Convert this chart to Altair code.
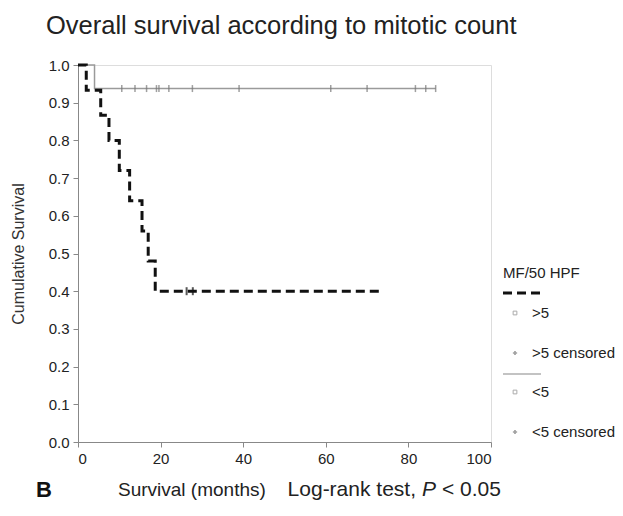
import altair as alt
import pandas as pd

# >5 MF/50 HPF group (dashed black)
gt5_time = [0, 2, 5.5, 7.5, 10, 12.5, 15.5, 17, 18.7, 73.5]
gt5_surv = [1.0, 0.933, 0.867, 0.8, 0.72, 0.64, 0.56, 0.48, 0.40, 0.40]
gt5_cens_time = [26.3, 27.8]
# <5 MF/50 HPF group (solid gray)
lt5_time = [0, 4, 86.6]
lt5_surv = [1.0, 0.9375, 0.9375]
lt5_cens_time = [10.6, 13.8, 16.6, 19.0, 19.6, 22.0, 27.7, 39.0, 61.2, 70.0, 81.7, 84.2, 86.6]

x_ticks = [0, 20, 40, 60, 80, 100]
y_ticks = [0.0, 0.1, 0.2, 0.3, 0.4, 0.5, 0.6, 0.7, 0.8, 0.9, 1.0]

FONT = "Liberation Sans"
W, H = 413, 377

gt5 = pd.DataFrame({"t": gt5_time, "s": gt5_surv})
lt5 = pd.DataFrame({"t": lt5_time, "s": lt5_surv})
gt5c = pd.DataFrame({"t": gt5_cens_time, "s": [gt5_surv[-1]] * len(gt5_cens_time)})
lt5c = pd.DataFrame({"t": lt5_cens_time, "s": [lt5_surv[-1]] * len(lt5_cens_time)})

xs = alt.Scale(domain=[0, 100], nice=False)
ys = alt.Scale(domain=[0, 1], nice=False)

xaxis = alt.Axis(values=x_ticks, title=None, grid=False,
                 labelFont=FONT, labelFontSize=15, labelColor="#222", tickSize=5,
                 labelPadding=4, domainColor="#888", tickColor="#888", labelOverlap=False)
yaxis = alt.Axis(values=y_ticks, tickCount=11, format=".1f", title="Cumulative Survival",
                 grid=False, labelFont=FONT, labelFontSize=15, labelColor="#222", tickSize=5,
                 labelPadding=4, domainColor="#888", tickColor="#888", titleFont=FONT,
                 titleFontSize=16, titleFontWeight="normal", titleColor="#333", titlePadding=22,
                 labelOverlap=False)

X = alt.X("t:Q", scale=xs, axis=xaxis)
Y = alt.Y("s:Q", scale=ys, axis=yaxis)

lt5_line = alt.Chart(lt5).mark_line(interpolate="step-after", color="#9a9a9a", strokeWidth=1.5).encode(x=X, y=Y)
gt5_line = alt.Chart(gt5).mark_line(interpolate="step-after", color="#111", strokeWidth=3,
                                     strokeDash=[9, 5]).encode(x=X, y=Y)
lt5_ticks = alt.Chart(lt5c).mark_tick(orient="vertical", size=7, thickness=1.5, color="#777").encode(x=X, y=Y)
gt5_ticks = alt.Chart(gt5c).mark_tick(orient="vertical", size=8, thickness=2, color="#111").encode(x=X, y=Y)

one = pd.DataFrame({"a": [0]})

def txt(text, x, y, size, weight="normal", style="normal", align="left", color="#222"):
    return alt.Chart(one).mark_text(text=text, align=align, baseline="middle", font=FONT,
                                    fontSize=size, fontWeight=weight, fontStyle=style,
                                    color=color).encode(x=alt.value(x), y=alt.value(y))

def seg(x1, x2, y, color, width, dash=None):
    kw = dict(color=color, strokeWidth=width)
    if dash:
        kw["strokeDash"] = dash
    return alt.Chart(one).mark_rule(**kw).encode(x=alt.value(x1), x2=alt.value(x2), y=alt.value(y))

def sq(x, y):
    return alt.Chart(one).mark_point(shape="square", size=14, filled=False, color="#888",
                                     strokeWidth=1).encode(x=alt.value(x), y=alt.value(y))

def cross(x, y):
    return alt.Chart(one).mark_point(shape="cross", size=18, filled=True, color="#777",
                                     strokeWidth=0).encode(x=alt.value(x), y=alt.value(y))

legend = [
    txt("MF/50 HPF", 425, 208, 15),
    seg(425, 462, 228, "#111", 3, [9, 5]),
    sq(437, 248), txt(">5", 454, 248, 15),
    cross(437, 288), txt(">5 censored", 454, 288, 15),
    seg(425, 463, 309, "#888", 1.2),
    sq(437, 327), txt("<5", 454, 327, 15),
    cross(437, 367), txt("<5 censored", 454, 367, 15),
]

annot = [
    txt("Overall survival according to mitotic count", -32, -39, 25.5, color="#222"),
    txt("B", -42, 425, 22, weight="bold", color="#111"),
    txt("Survival (months)", 40, 425, 19),
    txt("Log-rank test,", 338, 425, 21, align="right"),
    txt("P", 344, 425, 21, style="italic"),
    txt("< 0.05", 364, 425, 21),
]

chart = alt.layer(lt5_line, gt5_line, lt5_ticks, gt5_ticks, *legend, *annot).properties(
    width=W, height=H,
    autosize=alt.AutoSizeParams(type="none"),
    padding={"left": 70, "top": 57, "right": 124, "bottom": 66},
).configure_view(stroke="#888", strokeWidth=1).configure(background="white")

chart.save("out.html", embed_options={"renderer": "svg", "actions": False})
